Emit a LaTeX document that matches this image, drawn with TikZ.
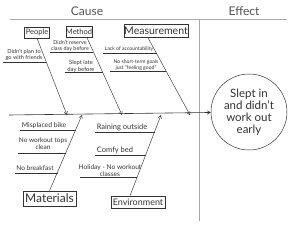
\documentclass[tikz,border=0pt]{standalone}
\usepackage{fontspec}
\setmainfont{Lato}
\usetikzlibrary{arrows.meta,calc}
\definecolor{rule}{HTML}{A8A8A8}
\definecolor{ink}{HTML}{333333}
\begin{document}
\begin{tikzpicture}[x=1pt,y=-1pt,
  every node/.style={text=ink},
  hdr/.style={font=\fontsize{12}{12}\selectfont,text=ink!85},
  catbox/.style={draw=ink,line width=0.5pt,inner sep=0pt,minimum height=11pt},
  lbl/.style={font=\fontsize{5.4}{6}\selectfont,align=center,inner sep=0pt},
  lblb/.style={lbl,font=\fontsize{6.6}{7}\selectfont},
  bone/.style={draw=ink,line width=0.45pt,-{Straight Barb[length=3pt,width=3.5pt]}},
  uline/.style={draw=ink,line width=0.45pt},
  sep/.style={draw=rule,line width=1pt}]
\useasboundingbox (0,0) rectangle (300,229);
% header
\node[hdr] (cause) at (87,11) {Cause};
\node[hdr] (effect) at (244,11) {Effect};
\coordinate (hl) at (10,20);
\coordinate (hr) at (287,20);
\coordinate (vt) at (199,20);
\coordinate (vb) at (199,221);
\draw[sep] (hl) -- (hr);
\draw[sep] (vt) -- (vb);
% effect
\node[draw=ink,circle,line width=0.5pt,minimum size=76pt,inner sep=0pt,align=center,
  font=\fontsize{11.5}{12}\selectfont] (eff) at (249,112)
  {Slept in\\and didn't\\work out\\early};
\coordinate (spL) at (9,115);
\draw[bone,line width=0.6pt] (spL) -- (eff);
% categories
\node[catbox,minimum width=25pt,font=\fontsize{7.5}{8}\selectfont] (people) at (37,32.5) {People};
\node[catbox,minimum width=26pt,font=\fontsize{7.5}{8}\selectfont] (method) at (79,32) {Method};
\node[catbox,minimum width=62pt,minimum height=13pt,font=\fontsize{10.5}{11}\selectfont] (meas) at (156,31) {Measurement};
\node[catbox,minimum width=53pt,minimum height=15pt,font=\fontsize{12}{12}\selectfont] (mat) at (49.5,198.5) {Materials};
\node[catbox,minimum width=54pt,minimum height=12pt,font=\fontsize{9}{9}\selectfont] (env) at (138,202) {Environment};
% bone ends on spine
\coordinate (pE) at (67,115);
\coordinate (mE) at (122,115);
\coordinate (msE) at (190,115);
\coordinate (maE) at (82,115);
\coordinate (eE) at (161,115);
\draw[bone] (people.south) -- (pE);
\draw[bone] ([xshift=8]method.south) -- (mE);
\draw[bone] ([xshift=-8]meas.south) -- (msE);
\draw[bone] (mat.north) -- (maE);
\draw[bone] ([xshift=-8]env.north) -- (eE);
% labels
\node[lbl,font=\fontsize{5.6}{6}\selectfont] (l1) at (24,55) {Didn't plan to\\go with friends};
\coordinate (u1a) at (3,62); \coordinate (u1b) at (46.4,62);
\draw[uline] (u1a) -- (u1b);
\node[lbl] (l2) at (70,46) {Didn't reserve\\class day before};
\coordinate (u2a) at (50,52); \coordinate (u2b) at (93.4,52);
\draw[uline] (u2a) -- (u2b);
\node[lbl,font=\fontsize{5.8}{7}\selectfont] (l3) at (81,66) {Slept late\\day before};
\coordinate (u3a) at (65,72); \coordinate (u3b) at (102.5,72);
\draw[uline] (u3a) -- (u3b);
\node[lbl,font=\fontsize{5.1}{6}\selectfont] (l4) at (129,49.5) {Lack of accountability};
\coordinate (u4a) at (103,53); \coordinate (u4b) at (156.6,53);
\draw[uline] (u4a) -- (u4b);
\node[lbl,font=\fontsize{5.1}{5.8}\selectfont] (l5) at (136,65) {No short-term goals\\just ``feeling good''};
\coordinate (u5a) at (110,71); \coordinate (u5b) at (166.3,71);
\draw[uline] (u5a) -- (u5b);
\node[lblb,font=\fontsize{6.8}{7}\selectfont] (l6) at (44,125.5) {Misplaced bike};
\coordinate (u6a) at (20,130); \coordinate (u6b) at (75.7,130);
\draw[uline] (u6a) -- (u6b);
\node[lblb,font=\fontsize{6.5}{7}\selectfont] (l7) at (43,143.5) {No workout tops\\clean};
\coordinate (u7a) at (18,153); \coordinate (u7b) at (66,153);
\draw[uline] (u7a) -- (u7b);
\node[lblb] (l8) at (35,168) {No breakfast};
\coordinate (u8a) at (15,173); \coordinate (u8b) at (57.6,173);
\draw[uline] (u8a) -- (u8b);
\node[lblb,font=\fontsize{7.5}{8}\selectfont] (l9) at (122,127.5) {Raining outside};
\coordinate (u9a) at (95,132); \coordinate (u9b) at (154.5,132);
\draw[uline] (u9a) -- (u9b);
\node[lblb,font=\fontsize{7.5}{8}\selectfont] (l10) at (115,150) {Comfy bed};
\coordinate (u10a) at (95,155); \coordinate (u10b) at (145.7,155);
\draw[uline] (u10a) -- (u10b);
\node[lblb,font=\fontsize{6.6}{6.5}\selectfont] (l11) at (110,170.5) {Holiday - No workout\\classes};
\coordinate (u11a) at (80,177); \coordinate (u11b) at (137.3,177);
\draw[uline] (u11a) -- (u11b);
\end{tikzpicture}
\end{document}
